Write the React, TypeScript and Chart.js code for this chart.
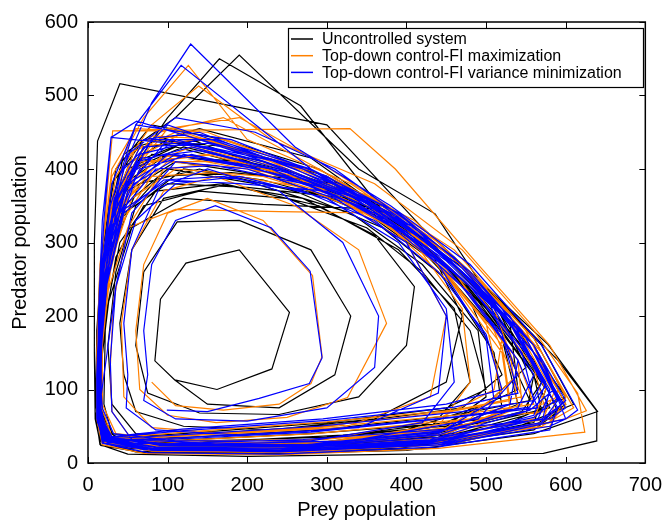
import React, { useEffect, useRef } from "react";
import { Chart, registerables } from "chart.js";

Chart.register(...registerables);

const seriesLabels = [
  "Uncontrolled system",
  "Top-down control-FI maximization",
  "Top-down control-FI variance minimization",
];
const seriesColors = ["#000000", "#ff8000", "#0000ff"];
const xTicks = [0, 100, 200, 300, 400, 500, 600, 700];
const yTicks = [0, 100, 200, 300, 400, 500, 600];

// [prey, predator]
const uncontrolled: [number, number][] = [
  [109,113],[162,100],[231,128],[253,205],[190,290],[123,272],[91,223],[84,139],[109,113],
  [150,80],[240,75],[310,120],[330,200],[280,290],[190,330],[112,328],[70,260],[60,160],
  [75,95],[140,68],[240,66],[340,90],[400,160],[410,240],[360,310],[270,360],[170,378],[95,360],[55,290],[40,190],[45,120],
  [60,70],[120,50],[230,45],[360,60],[450,110],[470,200],[430,290],[340,350],[220,385],[120,400],[60,350],[35,260],[25,160],
  [30,80],[60,40],[150,30],[300,35],[450,55],[540,100],[530,190],[460,280],[370,340],[250,390],[130,440],[60,410],[30,320],[18,200],
  [15,100],[20,45],[60,22],[180,18],[360,25],[520,50],[600,90],[560,170],[480,260],[380,330],[267,486],[165,550],[100,470],[50,390],[22,280],[14,160],
  [12,70],[18,28],[60,15],[200,12],[400,17],[560,40],[640,70],[578,161],[490,250],[436,339],[340,400],[190,555],[110,470],[45,420],[20,300],[11,170],
  [9,70],[15,25],[50,12],[200,9],[400,12],[572,13],[639,30],[639,71],[590,140],[500,240],[420,320],[300,460],[40,516],[12,438],[8,300],[8,150],
  [9,60],[16,24],[70,14],[230,12],[430,20],[580,55],[600,90],[540,180],[450,280],[350,360],[220,410],[100,440],[40,400],[18,290],[11,160],
  [12,70],[20,32],[80,20],[250,18],[430,30],[550,65],[560,120],[500,210],[420,300],[320,370],[190,410],[80,420],[35,350],[18,240],[12,130],
  [14,60],[25,30],[90,22],[260,20],[440,35],[540,80],[520,170],[440,270],[350,340],[230,390],[110,410],[50,370],[25,270],[15,160],
  [16,70],[30,35],[100,25],[270,24],[440,42],[500,90],[490,180],[420,270],[330,340],[210,380],[100,400],[45,350],[24,250],[16,140],
  [18,65],[35,32],[110,26],[280,26],[430,48],[480,110],[460,210],[390,290],[290,350],[170,380],[85,370],[40,300],[22,200],
  [20,80],[30,40],[90,28],[240,27],[400,45],[500,80],[550,130],[510,220],[430,300],[330,360],[220,400],[110,430],[50,400],[25,310],[16,200],
  [13,100],[15,40],[50,20],[170,16],[360,20],[530,45],[610,80],[570,160],[490,250],[400,330],[290,400],[170,440],[80,460],[35,400],[18,290],[11,180],
  [10,80],[16,30],[60,16],[200,14],[390,20],[560,45],[590,70],[560,140],[490,230],[400,320],[300,390],[180,430],[70,440],[30,380],[15,260],[11,150],
  [11,60],[20,27],[70,18],[230,16],[420,25],[560,55],[575,100],[520,190],[440,280],[350,350],[240,400],[120,430],[55,400],[25,300],[14,180],
  [14,70],[25,33],[85,22],[250,20],[420,35],[520,75],[510,150],[450,250],[370,320],[260,370],[140,400],[65,380],[30,290],[18,180],
  [16,80],[28,35],[95,24],[260,22],[430,38],[545,70],[570,110],[520,200],[440,290],[340,360],[220,400],[100,420],[45,380],[22,280],[14,170],
  [13,70],[20,30],[75,18],[230,16],[410,24],[560,50],[600,80],[560,160],[470,260],[380,340],[270,400],[150,440],[70,430],[30,350],[16,240],[12,130],
  [12,60],[28,30],[110,34],[290,45],[460,65],[555,85],[510,190],[440,280],[370,345],[220,352],[120,360],[55,320],[26,220],[15,120],
  [14,55],[32,32],[130,38],[310,52],[470,75],[520,120],[480,220],[410,300],[320,380],[180,395],[90,390],[40,330],[20,230],[14,130],
  [15,50],[35,26],[140,28],[320,38],[500,55],[580,75],[545,150],[470,250],[390,330],[280,415],[140,455],[60,430],[28,340],[16,220],[12,120],
  [13,60],[26,30],[100,30],[280,40],[460,55],[570,70],[560,120],[490,220],[410,300],[330,360],[200,375],[100,380],[45,340],[22,240],[14,140],
  [15,55],[30,34],[120,40],[300,55],[450,75],[500,100],[480,180],[420,260],[350,320],[250,360],[140,370],[70,350],[35,280],[20,180],[15,100],[16,50],
];

const fiMaximization: [number, number][] = [
  [80,110],[110,78],[170,72],[240,80],[280,108],[294,145],[282,255],[220,330],[150,360],[100,340],[70,270],[60,180],
  [65,100],[100,65],[161,55],[250,62],[326,89],[375,190],[340,290],[260,350],[160,390],[95,370],[55,290],[42,190],
  [45,90],[80,48],[180,40],[320,48],[430,90],[450,200],[400,300],[300,370],[180,410],[95,400],[50,320],[32,220],[28,130],
  [30,70],[55,32],[150,25],[320,30],[480,60],[540,120],[500,240],[410,330],[300,390],[170,440],[80,445],[38,370],[20,250],[15,140],
  [14,80],[22,30],[80,17],[260,15],[460,30],[600,60],[626,71],[580,160],[490,270],[386,400],[329,455],[31,452],[25,380],[15,250],[11,140],
  [11,60],[18,25],[70,13],[240,11],[440,20],[590,38],[624,42],[615,95],[560,180],[470,290],[360,380],[230,440],[139,513],[80,460],[35,390],[17,270],[11,150],
  [12,70],[20,28],[80,16],[250,14],[450,25],[580,55],[590,100],[530,200],[440,300],[330,380],[200,440],[126,541],[70,470],[30,390],[15,270],[11,150],
  [13,60],[25,28],[90,20],[270,20],[450,35],[540,75],[530,150],[460,260],[380,340],[260,400],[140,440],[60,430],[28,340],[16,220],[13,120],
  [15,70],[30,34],[100,26],[280,26],[440,50],[480,110],[470,210],[410,300],[320,360],[200,400],[100,410],[50,360],[28,260],[18,160],
  [18,80],[35,40],[120,30],[300,32],[440,60],[510,100],[520,170],[460,260],[380,340],[270,400],[150,450],[60,455],[30,400],[17,280],[12,160],
  [12,80],[20,35],[70,20],[220,18],[420,28],[570,50],[610,75],[570,150],[490,250],[400,330],[290,400],[170,470],[90,450],[40,370],[20,250],[13,140],
  [12,65],[22,30],[80,20],[240,18],[430,30],[560,60],[575,100],[530,190],[450,280],[350,350],[230,410],[120,450],[55,410],[25,310],[15,190],
  [14,70],[25,32],[90,22],[260,21],[440,38],[530,75],[520,150],[460,240],[380,320],[280,380],[160,420],[80,410],[38,340],[20,230],[14,130],
  [16,65],[28,33],[100,26],[270,25],[440,45],[550,70],[590,90],[550,180],[460,290],[360,360],[240,410],[110,450],[50,420],[24,320],[15,200],
  [13,80],[20,35],[70,20],[230,18],[430,30],[580,50],[600,90],[560,170],[470,270],[380,340],[270,400],[150,440],[70,440],[32,360],[17,250],[12,140],
  [12,60],[22,28],[80,18],[250,16],[440,28],[570,55],[585,95],[540,180],[460,270],[370,345],[250,400],[130,430],[60,400],[28,300],[16,190],
  [15,70],[28,35],[100,25],[280,24],[450,40],[545,80],[540,140],[480,230],[400,310],[300,370],[180,410],[90,410],[42,350],[22,240],[15,140],
  [17,75],[30,36],[110,28],[290,28],[450,48],[520,95],[500,190],[430,280],[340,350],[220,390],[110,400],[55,360],[28,270],[18,170],
  [14,60],[28,32],[110,36],[290,48],[470,66],[560,80],[540,140],[470,240],[400,320],[370,340],[240,342],[110,345],[50,320],[24,230],[15,130],
  [13,55],[27,29],[105,30],[285,40],[460,58],[575,70],[560,130],[490,230],[410,310],[330,375],[200,400],[95,420],[42,370],[20,260],[13,150],
  [15,62],[30,34],[120,42],[300,56],[460,72],[545,90],[510,180],[440,270],[360,340],[260,390],[150,420],[70,410],[33,330],[18,220],[14,120],
  [12,58],[24,27],[95,24],[270,30],[450,45],[585,60],[600,80],[560,160],[480,260],[390,340],[290,410],[190,470],[100,455],[45,380],[21,270],[13,160],
  [14,65],[29,33],[115,38],[295,50],[455,70],[530,85],[520,160],[450,260],[370,330],[270,375],[160,395],[80,390],[38,320],[20,220],[15,120],[16,55],
];

const fiVarianceMin: [number, number][] = [
  [99,72],[150,70],[215,88],[278,108],[294,143],[279,261],[230,320],[160,350],[110,330],[80,270],[70,180],[75,120],
  [70,85],[110,60],[200,57],[300,75],[360,130],[365,200],[320,300],[240,370],[150,400],[90,375],[55,290],[45,190],[50,120],
  [48,75],[85,45],[190,38],[340,48],[440,95],[450,200],[400,300],[310,360],[200,400],[110,410],[55,340],[35,240],[28,140],
  [30,70],[55,32],[160,26],[330,30],[490,60],[540,120],[500,230],[410,320],[300,380],[180,420],[100,440],[45,370],[24,260],[16,150],
  [14,80],[20,32],[70,18],[240,15],[450,25],[600,60],[615,72],[570,160],[480,270],[380,350],[260,430],[129,570],[80,490],[40,390],[18,270],[12,150],
  [11,70],[18,27],[75,14],[240,12],[440,22],[580,45],[590,75],[550,150],[480,240],[390,320],[280,400],[117,541],[60,460],[28,350],[15,230],[11,120],
  [11,60],[20,27],[80,17],[260,16],[450,28],[570,55],[580,100],[530,190],[450,280],[360,350],[250,400],[140,440],[61,465],[29,443],[18,330],[13,200],
  [12,90],[18,35],[70,20],[240,18],[430,28],[570,55],[600,85],[560,160],[480,250],[390,330],[280,400],[150,430],[29,443],[20,330],[14,210],
  [13,80],[22,32],[80,20],[250,18],[440,30],[560,65],[575,110],[520,210],[430,300],[330,370],[210,420],[100,460],[45,400],[22,290],[14,170],
  [14,70],[26,34],[95,24],[270,22],[440,40],[510,85],[500,170],[440,270],[360,340],[250,390],[130,420],[65,400],[32,320],[20,210],[15,120],
  [18,75],[32,40],[110,30],[280,30],[420,55],[460,110],[450,210],[390,300],[300,360],[190,390],[110,380],[60,330],[35,240],[24,150],
  [15,80],[25,36],[90,24],[260,22],[440,35],[570,60],[595,80],[560,160],[480,260],[390,340],[280,400],[160,440],[80,440],[38,360],[20,250],[14,140],
  [12,70],[20,30],[75,18],[240,16],[440,25],[580,50],[600,60],[575,130],[500,230],[410,320],[300,390],[180,440],[60,460],[30,380],[17,260],[12,150],
  [13,75],[23,33],[85,21],[250,20],[430,32],[550,70],[575,105],[530,200],[440,290],[340,360],[220,410],[110,440],[50,390],[25,290],[15,180],
  [15,70],[27,34],[95,24],[265,23],[440,38],[540,75],[560,120],[510,210],[430,290],[340,350],[230,400],[120,420],[58,380],[28,290],[17,180],
  [14,80],[22,35],[80,22],[245,20],[430,30],[570,55],[590,85],[550,170],[460,270],[370,345],[260,400],[140,450],[70,440],[33,360],[18,250],[13,140],
  [13,65],[22,30],[80,19],[250,17],[440,27],[565,60],[580,95],[530,190],[450,275],[360,345],[250,395],[130,430],[62,410],[30,320],[17,210],
  [15,75],[26,35],[90,25],[270,24],[440,42],[530,80],[540,140],[480,230],[400,310],[310,365],[200,405],[100,420],[50,370],[26,270],[17,160],
  [16,70],[28,34],[100,26],[275,25],[445,44],[555,72],[585,100],[545,180],[460,280],[370,350],[260,405],[140,440],[65,420],[30,330],[18,220],[14,120],
  [14,75],[24,33],[85,22],[255,20],[435,32],[560,62],[590,88],[550,170],[470,265],[380,340],[270,400],[150,435],[70,430],[32,350],[17,240],[13,130],
  [13,60],[26,30],[100,32],[280,42],[460,62],[565,75],[540,140],[470,240],[390,320],[300,370],[190,380],[100,385],[45,345],[22,240],[14,140],
  [14,58],[28,33],[110,38],[290,50],[470,70],[560,85],[545,150],[480,240],[400,315],[310,370],[210,400],[110,420],[50,380],[24,280],[15,170],
  [15,64],[30,35],[120,44],[300,58],[460,76],[540,95],[520,175],[450,265],[370,335],[270,380],[160,405],[85,400],[40,340],[21,240],[14,140],
  [12,55],[24,28],[95,26],[270,32],[450,46],[580,60],[600,75],[560,150],[480,250],[400,330],[310,400],[210,450],[110,470],[50,420],[24,310],[14,190],
  [14,62],[27,31],[105,34],[285,44],[455,62],[555,76],[570,110],[530,190],[450,280],[360,350],[250,395],[140,425],[68,415],[32,340],[18,230],[13,130],
  [15,66],[30,36],[118,46],[295,60],[450,80],[520,100],[500,175],[440,260],[360,330],[270,370],[170,390],[95,385],[45,340],[23,240],[15,140],[16,60],
];

const FONT = "'Liberation Sans', Arial, Helvetica, sans-serif";

const framePlugin = {
  id: "frameAndLegend",
  afterDatasetsDraw(chart: any) {
    const ctx = chart.ctx;
    const { left, right, top, bottom } = chart.chartArea;
    const xs = chart.scales.x;
    const ys = chart.scales.y;
    ctx.save();
    ctx.strokeStyle = "#000";
    ctx.lineWidth = 1.5;
    ctx.strokeRect(left, top, right - left, bottom - top);
    ctx.lineWidth = 1;
    const tl = 6;
    ctx.beginPath();
    xTicks.forEach((v) => {
      const px = Math.round(xs.getPixelForValue(v)) + 0.5;
      ctx.moveTo(px, bottom);
      ctx.lineTo(px, bottom - tl);
      ctx.moveTo(px, top);
      ctx.lineTo(px, top + tl);
    });
    yTicks.forEach((v) => {
      const py = Math.round(ys.getPixelForValue(v)) + 0.5;
      ctx.moveTo(left, py);
      ctx.lineTo(left + tl, py);
      ctx.moveTo(right, py);
      ctx.lineTo(right - tl, py);
    });
    ctx.stroke();

    // legend
    const bx = 288, by = 28, bw = 355, bh = 59;
    ctx.fillStyle = "#fff";
    ctx.fillRect(bx, by, bw, bh);
    ctx.lineWidth = 1.2;
    ctx.strokeStyle = "#000";
    ctx.strokeRect(bx + 0.5, by + 0.5, bw, bh);
    ctx.font = `16px ${FONT}`;
    ctx.textBaseline = "middle";
    ctx.textAlign = "left";
    seriesLabels.forEach((lab, i) => {
      const y = 39 + i * 16.7;
      ctx.strokeStyle = seriesColors[i];
      ctx.lineWidth = 1.5;
      ctx.beginPath();
      ctx.moveTo(291, y);
      ctx.lineTo(313, y);
      ctx.stroke();
      ctx.fillStyle = "#000";
      ctx.fillText(lab, 322, y + 1);
    });
    ctx.restore();
  },
};

export default function App() {
  const ref = useRef<HTMLCanvasElement | null>(null);
  useEffect(() => {
    if (!ref.current) return;
    const toPts = (arr: [number, number][]) => arr.map(([x, y]) => ({ x, y }));
    const sets = [uncontrolled, fiMaximization, fiVarianceMin];
    const chart = new Chart(ref.current, {
      type: "scatter",
      data: {
        datasets: sets.map((s, i) => ({
          label: seriesLabels[i],
          data: toPts(s),
          showLine: true,
          borderColor: seriesColors[i],
          backgroundColor: seriesColors[i],
          borderWidth: 1.2,
          pointRadius: 0,
          tension: 0,
          order: 3 - i,
        })),
      },
      options: {
        animation: false,
        responsive: true,
        maintainAspectRatio: false,
        layout: { padding: { left: 0, top: 19, right: 20, bottom: 0 } },
        plugins: { legend: { display: false }, tooltip: { enabled: false } },
        scales: {
          x: {
            type: "linear",
            min: 0,
            max: 700,
            afterFit: (s: any) => { s.height = 61; },
            afterBuildTicks: (s: any) => { s.ticks = xTicks.map((v) => ({ value: v })); },
            grid: { display: false, drawTicks: false },
            border: { display: false },
            ticks: { padding: 10, color: "#000", font: { family: FONT, size: 20 }, maxRotation: 0 },
            title: { display: true, text: "Prey population", color: "#000", font: { family: FONT, size: 20 }, padding: { top: 0, bottom: 2 } },
          },
          y: {
            type: "linear",
            min: 0,
            max: 600,
            afterFit: (s: any) => { s.width = 88; },
            afterBuildTicks: (s: any) => { s.ticks = yTicks.map((v) => ({ value: v })); },
            grid: { display: false, drawTicks: false },
            border: { display: false },
            ticks: { padding: 10, color: "#000", font: { family: FONT, size: 20 } },
            title: { display: true, text: "Predator population", color: "#000", font: { family: FONT, size: 20 }, padding: { top: 8, bottom: 0 } },
          },
        },
      },
      plugins: [framePlugin],
    } as any);
    return () => chart.destroy();
  }, []);
  return (
    <div style={{ position: "absolute", left: 0, top: 0, width: 672, height: 524, background: "#fff" }}>
      <canvas ref={ref} />
    </div>
  );
}
